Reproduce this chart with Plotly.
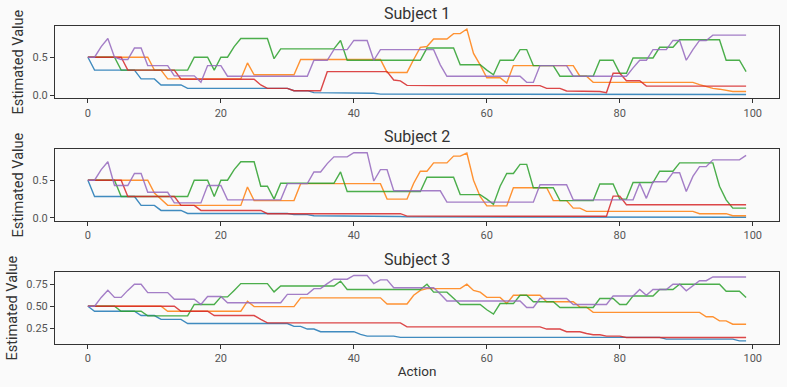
import plotly.graph_objects as go

actions = list(range(100))
series_names = ["blue", "orange", "green", "red", "purple"]
colors = ["#1f77b4", "#ff7f0e", "#2ca02c", "#d62728", "#9467bd"]
subject_titles = ["Subject 1", "Subject 2", "Subject 3"]
x_ticks = [0, 20, 40, 60, 80, 100]

# ---------------- Subject 1 ----------------
s1_blue = [0.5] + [0.33]*7 + [0.215]*3 + [0.135]*4 + [0.09]*16 + [0.06]*3 + [0.035]*5 + [0.026]*5 + [0.015]*9 + [0.01]*47
s1_orange = ([0.5]*10 + [0.33]*2 + [0.215]*12 + [0.425] + [0.27]*7 + [0.47]*13 + [0.30]*4 + [0.47, 0.63, 0.64]
             + [0.74]*3 + [0.81]*2 + [0.87, 0.55, 0.40] + [0.23]*3 + [0.16] + [0.39]*10 + [0.25]*2 + [0.17]*16
             + [0.14, 0.11, 0.09, 0.08, 0.06] + [0.05]*3)
s1_green = ([0.5]*5 + [0.33]*11 + [0.5]*3 + [0.33] + [0.5]*2 + [0.64] + [0.745]*5 + [0.48] + [0.61]*9 + [0.72]
            + [0.46]*12 + [0.62]*5 + [0.40]*4 + [0.33, 0.27] + [0.46]*3 + [0.6]*2 + [0.39]*4 + [0.25]*6 + [0.46]*3
            + [0.29]*2 + [0.49]*4 + [0.63]*3 + [0.73]*7 + [0.46]*3 + [0.31])
s1_red = ([0.5]*6 + [0.33]*8 + [0.21]*12 + [0.135] + [0.09]*4 + [0.06]*5 + [0.31]*10 + [0.2, 0.19, 0.13]
          + [0.127]*20 + [0.09]*3 + [0.057]*4 + [0.05]*2 + [0.035] + [0.29]*2 + [0.19]*3 + [0.12]*16)
s1_purple = ([0.5]*2 + [0.64, 0.745, 0.5] + [0.47]*2 + [0.62]*2 + [0.39]*4 + [0.255]*4 + [0.17] + [0.39]*3
             + [0.25]*13 + [0.46]*3 + [0.6]*3 + [0.72]*3 + [0.46] + [0.6]*9 + [0.40] + [0.25]*12 + [0.17]*2
             + [0.39]*5 + [0.25]*9 + [0.36] + [0.46]*2 + [0.6]*3 + [0.72]*2 + [0.46, 0.6] + [0.72]*2 + [0.79]*6)

# ---------------- Subject 2 ----------------
s2_blue = [0.5] + [0.285]*7 + [0.167]*3 + [0.1]*4 + [0.06]*16 + [0.045]*3 + [0.03]*5 + [0.02]*9 + [0.015]*13 + [0.01]*39
s2_orange = ([0.5]*10 + [0.33, 0.25] + [0.167]*12 + [0.41] + [0.23]*7 + [0.455]*13 + [0.25]*4 + [0.46]
             + [0.62]*2 + [0.73]*3 + [0.82]*2 + [0.86, 0.5, 0.285] + [0.16]*4 + [0.40]*6 + [0.23]*3 + [0.13]*2
             + [0.088]*17 + [0.057]*5 + [0.03]*3)
s2_green = ([0.5]*5 + [0.285]*11 + [0.5]*3 + [0.285] + [0.5]*2 + [0.64] + [0.745]*3 + [0.42]*2 + [0.25]
            + [0.46]*9 + [0.61] + [0.35]*12 + [0.54]*5 + [0.31]*4 + [0.25, 0.18, 0.42] + [0.59]*2 + [0.71]*2
            + [0.40]*4 + [0.23]*6 + [0.45]*3 + [0.25]*2 + [0.47]*4 + [0.62]*3 + [0.73]*6 + [0.42, 0.24] + [0.13]*3)
s2_red = [0.5]*6 + [0.285]*8 + [0.167]*3 + [0.1]*10 + [0.057]*21 + [0.025]*30 + [0.022] + [0.29]*2 + [0.175]*19
s2_purple = ([0.5]*2 + [0.64, 0.745] + [0.43]*3 + [0.59]*2 + [0.34]*4 + [0.2]*5 + [0.43]*3 + [0.24]*9
             + [0.455]*4 + [0.61]*2 + [0.72] + [0.81]*3 + [0.865]*3 + [0.49] + [0.64]*2 + [0.36]*8 + [0.21]*14
             + [0.44]*5 + [0.24]*10 + [0.46, 0.26] + [0.48]*3 + [0.6]*2 + [0.35, 0.55] + [0.68]*2 + [0.77]*5 + [0.83])

# ---------------- Subject 3 ----------------
s3_blue = [0.5] + [0.443]*7 + [0.394]*3 + [0.35]*4 + [0.303]*16 + [0.27]*2 + [0.24]*2 + [0.21]*6 + [0.18] + [0.16]*5 + [0.145]*40 + [0.125]*11 + [0.106]*2
s3_orange = ([0.5]*12 + [0.443]*12 + [0.557] + [0.495]*7 + [0.595]*13 + [0.525]*4 + [0.625, 0.68] + [0.70]*6
             + [0.75, 0.68, 0.66] + [0.60]*3 + [0.53] + [0.625]*5 + [0.55]*5 + [0.49]*2 + [0.43]*17 + [0.38]*2
             + [0.333]*2 + [0.295]*3)
s3_green = ([0.5]*5 + [0.443]*4 + [0.39]*7 + [0.52]*4 + [0.606]*2 + [0.68] + [0.757]*5 + [0.663] + [0.73]*9
            + [0.785] + [0.69]*12 + [0.75] + [0.66]*3 + [0.59] + [0.52]*4 + [0.46, 0.41] + [0.53]*3 + [0.625]*2
            + [0.55]*4 + [0.485]*6 + [0.587]*3 + [0.52]*2 + [0.617]*4 + [0.69]*3 + [0.75]*7 + [0.67]*3 + [0.6])
s3_red = [0.5]*14 + [0.443]*5 + [0.394]*7 + [0.35] + [0.31]*21 + [0.265]*21 + [0.24]*3 + [0.21]*3 + [0.19] + [0.175]*2 + [0.16]*3 + [0.144]*19
s3_purple = ([0.5]*2 + [0.6, 0.68] + [0.6]*2 + [0.68] + [0.75]*2 + [0.655]*4 + [0.58]*4 + [0.52] + [0.61]*3
             + [0.54]*9 + [0.635]*4 + [0.70]*2 + [0.757] + [0.807]*3 + [0.85]*3 + [0.757] + [0.80]*2 + [0.71]*7
             + [0.64] + [0.56]*12 + [0.485]*2 + [0.587]*5 + [0.52]*6 + [0.617]*4 + [0.69, 0.625] + [0.69]*3
             + [0.75]*2 + [0.675, 0.73] + [0.79]*2 + [0.833]*6)

subjects = [
    [s1_blue, s1_orange, s1_green, s1_red, s1_purple],
    [s2_blue, s2_orange, s2_green, s2_red, s2_purple],
    [s3_blue, s3_orange, s3_green, s3_red, s3_purple],
]

FONT = "Roboto, 'Open Sans', sans-serif"
BG = "#fafafa"

fig = go.Figure()
for k, series in enumerate(subjects):
    xa = "x" if k == 0 else f"x{k+1}"
    ya = "y" if k == 0 else f"y{k+1}"
    for name, col, vals in zip(series_names, colors, series):
        fig.add_trace(go.Scatter(x=actions, y=vals, mode="lines", name=name,
                                 line=dict(color=col, width=1.4), opacity=0.85,
                                 xaxis=xa, yaxis=ya, showlegend=False, hoverinfo="skip"))

# pixel geometry: plot area from y=26 to y=344 (318 px)
y_domains = [[0.7726, 1.0], [0.3868, 0.6123], [0.0, 0.2255]]
y_ranges = [[-0.04, 0.91], [-0.04, 0.91], [0.07, 0.886]]
y_ticks = [[0.0, 0.5], [0.0, 0.5], [0.25, 0.5, 0.75]]
y_fmt = [".1f", ".1f", ".2f"]

axis_common = dict(showline=True, linecolor="#333333", linewidth=1, mirror=True,
                   showgrid=False, zeroline=False, ticks="outside", ticklen=4,
                   tickcolor="#333333", automargin=False,
                   tickfont=dict(size=11, color="#555555", family=FONT))

layout = dict(
    width=787, height=387,
    margin=dict(l=55, r=8, t=26, b=43),
    paper_bgcolor=BG, plot_bgcolor=BG,
    font=dict(family=FONT, color="#333333"),
    showlegend=False,
)
for k in range(3):
    xkey = "xaxis" if k == 0 else f"xaxis{k+1}"
    ykey = "yaxis" if k == 0 else f"yaxis{k+1}"
    xa = dict(axis_common, domain=[0, 1], range=[-4.95, 103.95], tickvals=x_ticks,
              anchor="y" if k == 0 else f"y{k+1}")
    if k == 2:
        xa["title"] = dict(text="Action", font=dict(size=13.5, color="#333333", family=FONT), standoff=2)
    ya = dict(axis_common, domain=y_domains[k], range=y_ranges[k], tickvals=y_ticks[k],
              tickformat=y_fmt[k], anchor="x" if k == 0 else f"x{k+1}",
              title=dict(text="Estimated Value", font=dict(size=14.5, color="#333333", family=FONT), standoff=5))
    layout[xkey] = xa
    layout[ykey] = ya

annotations = []
for k, t in enumerate(subject_titles):
    annotations.append(dict(text=t, xref="paper", yref="paper", x=0.5, y=y_domains[k][1],
                            yanchor="bottom", yshift=1, showarrow=False,
                            font=dict(size=16, color="#333333", family=FONT)))
layout["annotations"] = annotations

fig.update_layout(**layout)
fig.write_html("out.html", config={"displayModeBar": False, "staticPlot": True},
               post_script="document.body.style.margin='0';document.body.style.background='#fafafa';")
